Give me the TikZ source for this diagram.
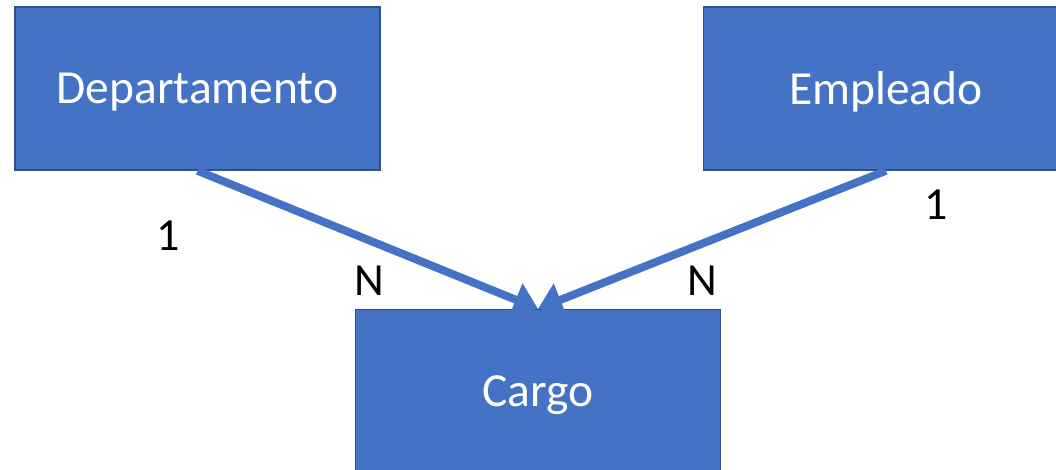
\documentclass[tikz,border=0pt]{standalone}
\usepackage{fontspec}
\setmainfont{Carlito}
\usetikzlibrary{arrows.meta}
\definecolor{boxblue}{HTML}{4472C4}
\definecolor{boxedge}{HTML}{2F528F}
\tikzset{
  ent/.style={draw=boxedge, line width=1.5pt, fill=boxblue, text=white, inner sep=0pt, text depth=0pt,
    minimum width=365pt, minimum height=163pt, font=\fontsize{47.5}{56}\selectfont},
  rel/.style={draw=boxblue, line width=8pt, -{Triangle[width=34pt,length=24pt]}},
  card/.style={font=\fontsize{46}{54}\selectfont, inner sep=0pt}
}
\begin{document}
\begin{tikzpicture}[x=1pt,y=-1pt]
        \useasboundingbox (0,0) rectangle (1056,470); \clip (0,0) rectangle (1056,470);
        \node (dep) at (197.5,88.5) [ent] {Departamento};
        \node (emp) at (886,88.5) [ent] {Empleado};
        \node (cargo) at (538,391) [ent] {Cargo};
        \draw[rel] (dep.south) -- (cargo.north); \draw[rel] (emp.south) -- (cargo.north);
        \node (d1) at (168,236) [card] {1}; \node (dN) at (369.5,281) [card] {N};
        \node (e1) at (936,205) [card] {1}; \node (eN) at (702,281) [card] {N};
    \end{tikzpicture}
\end{document}
